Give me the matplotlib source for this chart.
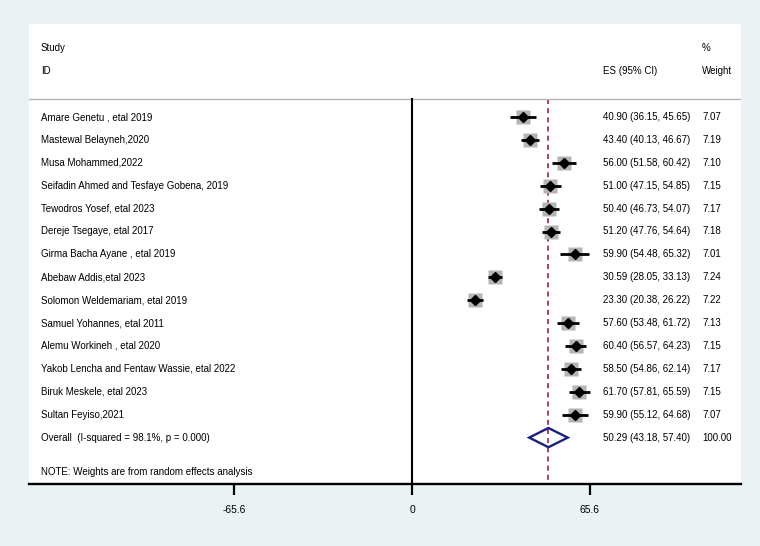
"""
Forest plot of pooled prevalence (random effects)
"""

import matplotlib.pyplot as plt
import numpy as np

studies = [
    "Amare Genetu , etal 2019",
    "Mastewal Belayneh,2020",
    "Musa Mohammed,2022",
    "Seifadin Ahmed and Tesfaye Gobena, 2019",
    "Tewodros Yosef, etal 2023",
    "Dereje Tsegaye, etal 2017",
    "Girma Bacha Ayane , etal 2019",
    "Abebaw Addis,etal 2023",
    "Solomon Weldemariam, etal 2019",
    "Samuel Yohannes, etal 2011",
    "Alemu Workineh , etal 2020",
    "Yakob Lencha and Fentaw Wassie, etal 2022",
    "Biruk Meskele, etal 2023",
    "Sultan Feyiso,2021",
]
es = [40.90, 43.40, 56.00, 51.00, 50.40, 51.20, 59.90, 30.59, 23.30, 57.60, 60.40, 58.50, 61.70, 59.90]
lo = [36.15, 40.13, 51.58, 47.15, 46.73, 47.76, 54.48, 28.05, 20.38, 53.48, 56.57, 54.86, 57.81, 55.12]
hi = [45.65, 46.67, 60.42, 54.85, 54.07, 54.64, 65.32, 33.13, 26.22, 61.72, 64.23, 62.14, 65.59, 64.68]
weight = [7.07, 7.19, 7.10, 7.15, 7.17, 7.18, 7.01, 7.24, 7.22, 7.13, 7.15, 7.17, 7.15, 7.07]

overall_label = "Overall  (I-squared = 98.1%, p = 0.000)"
overall_es, overall_lo, overall_hi, overall_w = 50.29, 43.18, 57.40, 100.00
note = "NOTE: Weights are from random effects analysis"
xticks = [-65.6, 0, 65.6]

bg = "#eaf2f3"
fs = 7.0
plt.rcParams["font.family"] = ["Liberation Sans", "DejaVu Sans"]

fig = plt.figure(figsize=(7.6, 5.46), dpi=100, facecolor=bg)
ax = fig.add_axes([29 / 760, 1 - 484 / 546, 712 / 760, 460 / 546])
ax.set_facecolor("white")

# x scale: 0 at 412px, 65.6 at 590px
ppu = 178 / 65.6
ax.set_xlim((29 - 412) / ppu, (741 - 412) / ppu)
rowh = 22.9
ax.set_ylim((484 - 117) / rowh, (24 - 117) / rowh)

n = len(studies)
rows = np.arange(n)
x_text = (41 - 412) / ppu
x_es = (603 - 412) / ppu
x_w = (702 - 412) / ppu
top_line = (99 - 117) / rowh
bottom = (484 - 117) / rowh

# header
ax.text(x_text, (48 - 117) / rowh, "Study", fontsize=fs, va="center")
ax.text(x_text, (71 - 117) / rowh, "ID", fontsize=fs, va="center")
ax.text(x_w, (48 - 117) / rowh, "%", fontsize=fs, va="center")
ax.text(x_es, (71 - 117) / rowh, "ES (95% CI)", fontsize=fs, va="center")
ax.text(x_w, (71 - 117) / rowh, "Weight", fontsize=fs, va="center")
ax.axhline(top_line, color="#b4b4b4", lw=1)

# reference lines
ax.plot([0, 0], [top_line, bottom], color="black", lw=1.5, zorder=2)
ax.plot([overall_es, overall_es], [top_line, bottom], color="#9b2335", lw=1.2,
        ls=(0, (3, 2.5)), zorder=1)

for i in range(n):
    ax.plot(es[i], rows[i], marker="s", ms=np.sqrt(weight[i]) * 3.7,
            color="#b4b4b4", mec="none", zorder=2)
    ax.plot([lo[i], hi[i]], [rows[i], rows[i]], color="black", lw=2.0,
            solid_capstyle="butt", zorder=3)
    ax.plot(es[i], rows[i], marker="D", ms=5.0, color="black", zorder=4)
    ax.text(x_text, rows[i], studies[i], fontsize=fs, va="center")
    ax.text(x_es, rows[i], f"{es[i]:.2f} ({lo[i]:.2f}, {hi[i]:.2f})", fontsize=fs, va="center")
    ax.text(x_w, rows[i], f"{weight[i]:.2f}", fontsize=fs, va="center")

# overall diamond
yo = n
dh = 0.42
ax.fill([overall_lo, overall_es, overall_hi, overall_es, overall_lo],
        [yo, yo - dh, yo, yo + dh, yo], facecolor="none", edgecolor="#1a2080",
        lw=1.7, zorder=5)
ax.text(x_text, yo, overall_label, fontsize=fs, va="center")
ax.text(x_es, yo, f"{overall_es:.2f} ({overall_lo:.2f}, {overall_hi:.2f})", fontsize=fs, va="center")
ax.text(x_w, yo, f"{overall_w:.2f}", fontsize=fs, va="center")
ax.text(x_text, (472 - 117) / rowh, note, fontsize=fs, va="center")

for s in ["top", "left", "right"]:
    ax.spines[s].set_visible(False)
ax.spines["bottom"].set_linewidth(1.7)
ax.set_yticks([])
ax.set_xticks(xticks)
ax.set_xticklabels([str(t) if t != 0 else "0" for t in xticks])
ax.tick_params(axis="x", length=8, width=1.6, labelsize=7.4, pad=7)

plt.savefig("out.png", dpi=100, facecolor=bg)
